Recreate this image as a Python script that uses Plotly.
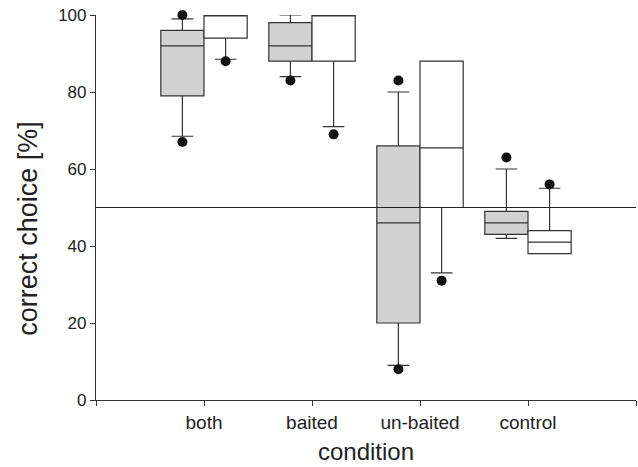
import plotly.graph_objects as go

# ---- data ----
categories = ["both", "baited", "un-baited", "control"]
cat_pos = [1, 2, 3, 4]

# grey boxes (first series)
grey_q1 = [79, 88, 20, 43]
grey_median = [92, 92, 46, 46]
grey_q3 = [96, 98, 66, 49]
grey_lower = [68.5, 84, 9, 42]
grey_upper = [99, 100, 80, 60]
grey_dots_low = [67, 83, 8, None]
grey_dots_high = [100, None, 83, 63]

# white boxes (second series)
white_q1 = [94, 88, 50, 38]
white_median = [100, 100, 65.5, 41]
white_q3 = [100, 100, 88, 44]
white_lower = [88.5, 71, 33, 38]
white_upper = [100, 100, 88, 55]
white_dots_low = [88, 69, 31, None]
white_dots_high = [None, None, None, 56]

chance_level = 50
y_ticks = [0, 20, 40, 60, 80, 100]

# ---- layout helpers ----
box_w = 0.4
grey_x = [p - box_w / 2 for p in cat_pos]
white_x = [p + box_w / 2 for p in cat_pos]
line_col = "#333333"
font_fam = "Liberation Sans, Arial, sans-serif"

fig = go.Figure()

fig.add_trace(go.Box(
    x=grey_x, q1=grey_q1, median=grey_median, q3=grey_q3,
    lowerfence=grey_lower, upperfence=grey_upper,
    width=box_w, whiskerwidth=0.5,
    fillcolor="#d2d2d2", line=dict(color=line_col, width=1.2),
    boxpoints=False, showlegend=False, name="grey",
))
fig.add_trace(go.Box(
    x=white_x, q1=white_q1, median=white_median, q3=white_q3,
    lowerfence=white_lower, upperfence=white_upper,
    width=box_w, whiskerwidth=0.5,
    fillcolor="#ffffff", line=dict(color=line_col, width=1.2),
    boxpoints=False, showlegend=False, name="white",
))

dot_style = dict(mode="markers", marker=dict(color="#111111", size=10),
                 showlegend=False, cliponaxis=False, hoverinfo="y")
for xs, ys in [(grey_x, grey_dots_low), (grey_x, grey_dots_high),
               (white_x, white_dots_low), (white_x, white_dots_high)]:
    fig.add_trace(go.Scatter(x=xs, y=ys, **dot_style))

fig.add_hline(y=chance_level, line=dict(color="#222222", width=1.2))

# y-axis title placed as a rotated annotation (sits a little below centre)
fig.add_annotation(
    text="correct choice [%]", textangle=-90,
    xref="paper", yref="paper", x=-0.126, y=0.447,
    xanchor="center", yanchor="middle", showarrow=False,
    font=dict(size=27, family=font_fam, color="#222222"),
)

fig.update_layout(
    width=638, height=467,
    margin=dict(l=96, r=2, t=15, b=67),
    paper_bgcolor="white", plot_bgcolor="white",
    font=dict(family=font_fam, color="#222222"),
    boxmode="overlay",
)
fig.update_xaxes(
    range=[0, 5], tickvals=[0] + cat_pos + [5], ticktext=[""] + categories + [""],
    showline=True, linecolor=line_col, linewidth=1.2,
    ticks="outside", ticklen=5, tickcolor=line_col, tickwidth=1.2,
    showgrid=False, zeroline=False, automargin=False,
    ticklabeloverflow="allow",
    tickfont=dict(size=19),
    title=dict(text="condition", font=dict(size=24), standoff=11),
)
fig.update_yaxes(
    range=[0, 100], tickvals=y_ticks,
    showline=True, linecolor=line_col, linewidth=1.2,
    ticks="outside", ticklen=5, tickcolor=line_col, tickwidth=1.2,
    showgrid=False, zeroline=False, automargin=False,
    ticklabeloverflow="allow",
    tickfont=dict(size=17),
)

# remove the browser's default 8px body margin so the figure fills the window
fig.write_html(
    "out.html",
    config={"displayModeBar": False},
    post_script="document.body.style.margin='0';document.body.style.overflow='hidden';",
)
